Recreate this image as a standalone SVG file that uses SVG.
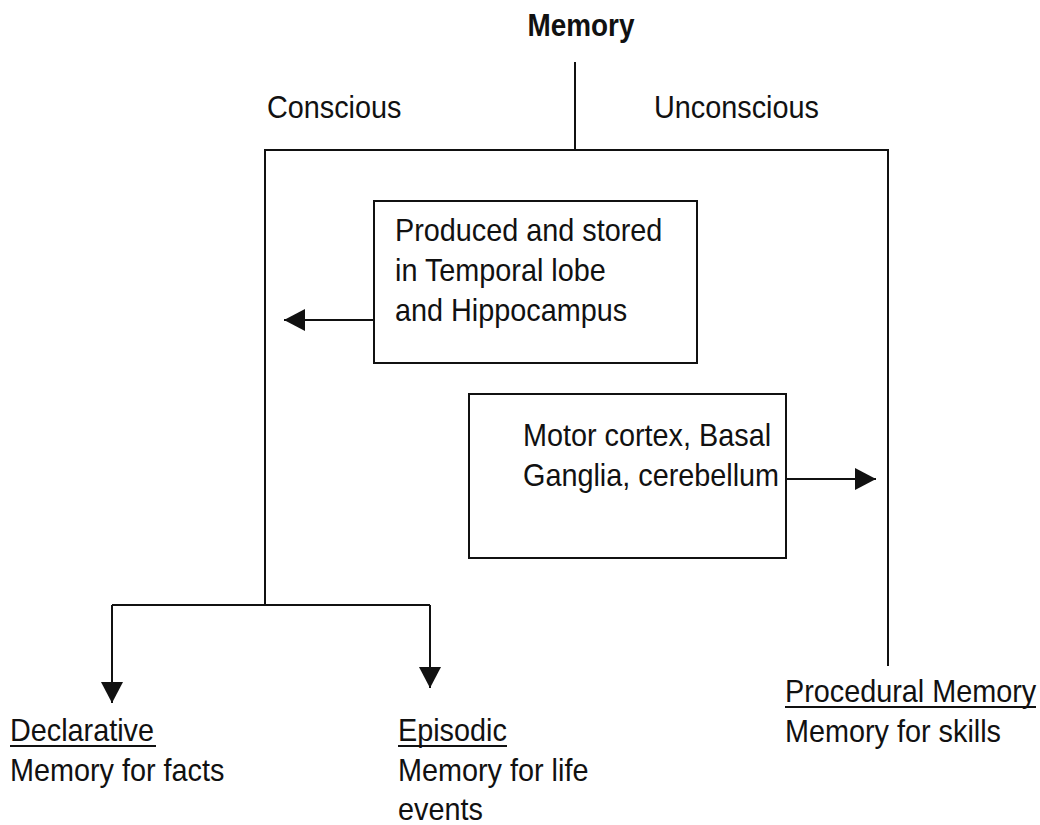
<svg xmlns="http://www.w3.org/2000/svg" width="1040" height="825" viewBox="0 0 1040 825">
  <style>
    .t { font-family: "Liberation Sans", Arial, sans-serif; font-size: 32px; fill: #111; }
    .b { font-weight: bold; font-size: 31px; }
    .ln { stroke: #111; stroke-width: 2; fill: none; }
    .box { stroke: #111; stroke-width: 2; fill: #fff; }
  </style>
  <defs>
    <marker id="ahd" viewBox="0 0 22 22" markerWidth="22" markerHeight="22" refX="21" refY="11" orient="auto" markerUnits="userSpaceOnUse">
      <path d="M0,0 L21,11 L0,22 Z" fill="#111"/>
    </marker>
  </defs>

  <g id="memory">
    <text class="t b" text-anchor="middle" transform="translate(581,36) scale(0.9,1)">Memory</text>
  </g>
  <g id="conscious">
    <text class="t" transform="translate(267,118) scale(0.9,1)">Conscious</text>
  </g>
  <g id="unconscious">
    <text class="t" transform="translate(654,118) scale(0.9,1)">Unconscious</text>
  </g>

  <g id="connectors">
    <line class="ln" x1="575" y1="62" x2="575" y2="150"/>
    <polyline class="ln" points="265,605 265,150 888,150 888,666"/>
    <line class="ln" x1="373" y1="320" x2="284" y2="320" marker-end="url(#ahd)"/>
    <line class="ln" x1="786" y1="479" x2="876" y2="479" marker-end="url(#ahd)"/>
    <polyline class="ln" points="112,605 430,605"/>
    <line class="ln" x1="112" y1="605" x2="112" y2="703" marker-end="url(#ahd)"/>
    <line class="ln" x1="430" y1="605" x2="430" y2="688" marker-end="url(#ahd)"/>
  </g>

  <g id="temporal-box">
    <rect class="box" x="374" y="201" width="323" height="162"/>
    <text class="t" transform="translate(395,241) scale(0.9,1)">Produced and stored</text>
    <text class="t" transform="translate(395,281) scale(0.9,1)">in Temporal lobe</text>
    <text class="t" transform="translate(395,321) scale(0.9,1)">and Hippocampus</text>
  </g>

  <g id="motor-box">
    <rect class="box" x="469" y="394" width="317" height="164"/>
    <text class="t" transform="translate(523,446) scale(0.9,1)">Motor cortex, Basal</text>
    <text class="t" transform="translate(523,486) scale(0.9,1)">Ganglia, cerebellum</text>
  </g>

  <g id="declarative">
    <text class="t" transform="translate(10,741) scale(0.9,1)">Declarative</text>
    <line class="ln" x1="10" y1="746" x2="156" y2="746"/>
    <text class="t" transform="translate(10,781) scale(0.9,1)">Memory for facts</text>
  </g>

  <g id="episodic">
    <text class="t" transform="translate(398,741) scale(0.9,1)">Episodic</text>
    <line class="ln" x1="398" y1="746" x2="507" y2="746"/>
    <text class="t" transform="translate(398,781) scale(0.9,1)">Memory for life</text>
    <text class="t" transform="translate(398,820) scale(0.9,1)">events</text>
  </g>

  <g id="procedural">
    <text class="t" transform="translate(785,702) scale(0.9,1)">Procedural Memory</text>
    <line class="ln" x1="785" y1="707" x2="1036" y2="707"/>
    <text class="t" transform="translate(785,742) scale(0.9,1)">Memory for skills</text>
  </g>
</svg>
